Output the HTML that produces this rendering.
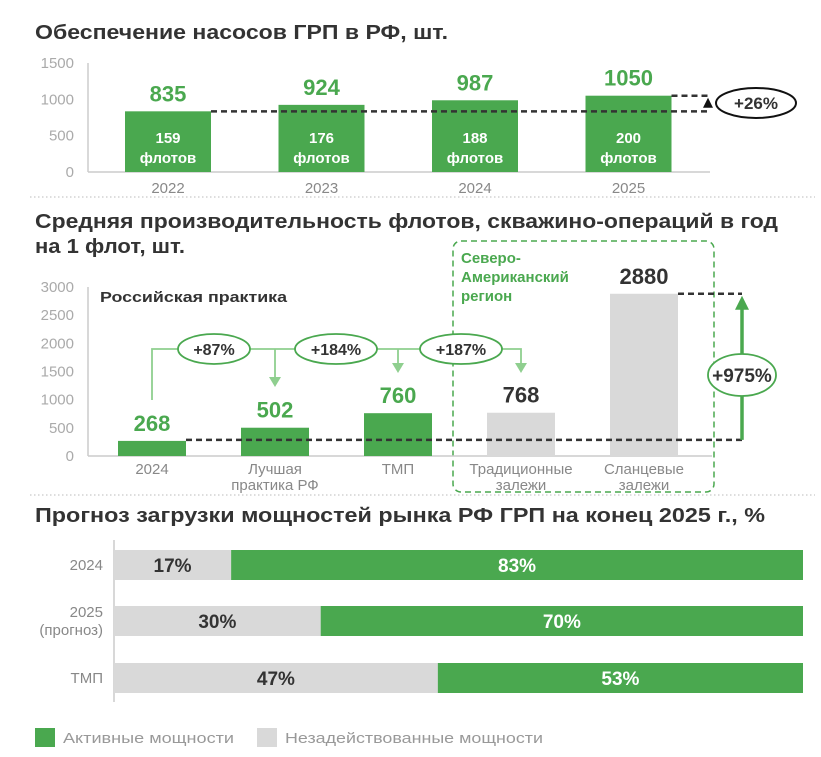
<!DOCTYPE html>
<html><head><meta charset="utf-8"><style>
body{margin:0;background:#fff;}
svg{display:block;font-family:"Liberation Sans","DejaVu Sans",sans-serif;}
.t{font-weight:bold;font-size:20px;fill:#333;}
.tick{font-size:15px;fill:#aaa;}
.cat{font-size:15px;fill:#888;}
</style></head><body>
<svg id="c" width="821" height="757" viewBox="0 0 821 757" xmlns="http://www.w3.org/2000/svg">
<text class="t" x="35" y="39" textLength="413" lengthAdjust="spacingAndGlyphs">Обеспечение насосов ГРП в РФ, шт.</text>
<text class="t" x="35" y="228" textLength="743" lengthAdjust="spacingAndGlyphs">Средняя производительность флотов, скважино-операций в год</text>
<text class="t" x="35" y="253" textLength="150" lengthAdjust="spacingAndGlyphs">на 1 флот, шт.</text>
<text class="t" x="35" y="522" textLength="730" lengthAdjust="spacingAndGlyphs">Прогноз загрузки мощностей рынка РФ ГРП на конец 2025 г., %</text>
<line x1="30" y1="197" x2="815" y2="197" stroke="#bbb" stroke-dasharray="1.5 2.5"/>
<line x1="30" y1="495" x2="815" y2="495" stroke="#bbb" stroke-dasharray="1.5 2.5"/>
<g id="g1"></g><g id="g2"></g><g id="g3"></g>
<rect x="35" y="728" width="20" height="19" fill="#4aa84f"/>
<text x="63" y="743" font-size="15" fill="#999" textLength="171" lengthAdjust="spacingAndGlyphs">Активные мощности</text>
<rect x="257" y="728" width="20" height="19" fill="#d9d9d9"/>
<text x="285" y="743" font-size="15" fill="#999" textLength="258" lengthAdjust="spacingAndGlyphs">Незадействованные мощности</text>
</svg>
<script>
const years1=["2022","2023","2024","2025"];
const pumps=[835,924,987,1050];
const fleets=[159,176,188,200];
const ticks1=[0,500,1000,1500];
const cats2=[["2024"],["Лучшая","практика РФ"],["ТМП"],["Традиционные","залежи"],["Сланцевые","залежи"]];
const perf=[268,502,760,768,2880];
const ticks2=[0,500,1000,1500,2000,2500,3000];
const growth=["+87%","+184%","+187%"];
const rows3=[["2024"],["2025","(прогноз)"],["ТМП"]];
const idle=[17,30,47];
const active=[83,70,53];
const NS="http://www.w3.org/2000/svg";
function mk(p,tag,a,txt){const e=document.createElementNS(NS,tag);for(const k in a)e.setAttribute(k,a[k]);if(txt!==undefined)e.textContent=txt;p.appendChild(e);return e;}
const G="#4aa84f",GL="#8fcf8f",GR="#d9d9d9",DK="#333";
// chart 1
(function(){
const g=document.getElementById('g1');
const y=v=>172-v*109/1500, x=i=>168+i*153.5, bw=86;
ticks1.forEach(t=>{const e=mk(g,'text',{x:74,y:y(t)+5,'text-anchor':'end',class:'tick'},t);

});
let e=mk(g,'line',{x1:88,y1:63,x2:88,y2:172,stroke:'#ccc','stroke-width':1.5});


e=mk(g,'line',{x1:88,y1:172,x2:710,y2:172,stroke:'#ccc','stroke-width':1.5});


years1.forEach((yr,i)=>{
 e=mk(g,'rect',{x:x(i)-bw/2,y:y(pumps[i]),width:bw,height:172-y(pumps[i]),fill:G});
 
 
 e=mk(g,'text',{x:x(i),y:y(pumps[i])-10,'text-anchor':'middle','font-size':22,'font-weight':'bold',fill:G},pumps[i]);
 
 
 e=mk(g,'text',{x:x(i),y:143,'text-anchor':'middle','font-size':15,'font-weight':'bold',fill:'#fff'},fleets[i]);
 
 
 e=mk(g,'text',{x:x(i),y:163,'text-anchor':'middle','font-size':15,'font-weight':'bold',fill:'#fff'},'флотов');
 
 
 e=mk(g,'text',{x:x(i),y:193,'text-anchor':'middle',class:'cat'},yr);
 
 
});
const ax=708;
e=mk(g,'line',{x1:x(0)+bw/2,y1:y(pumps[0]),x2:ax,y2:y(pumps[0]),stroke:DK,'stroke-width':2.5,'stroke-dasharray':'6 4'});


e=mk(g,'line',{x1:x(3)+bw/2,y1:y(pumps[3]),x2:ax,y2:y(pumps[3]),stroke:DK,'stroke-width':2.5,'stroke-dasharray':'6 4'});


e=mk(g,'path',{d:`M${ax-5} ${y(pumps[3])+12} L${ax} ${y(pumps[3])+2} L${ax+5} ${y(pumps[3])+12} Z`,fill:'#111'});


e=mk(g,'ellipse',{cx:756,cy:103,rx:40,ry:15,fill:'#fff',stroke:'#111','stroke-width':2});


e=mk(g,'text',{x:756,y:109,'text-anchor':'middle','font-size':17,'font-weight':'bold',fill:DK},'+26%');


})();
// chart 2
(function(){
const g=document.getElementById('g2');
const y=v=>456-v*169/3000, x=i=>152+i*123, bw=68;
let e=mk(g,'rect',{x:453,y:241,width:261,height:251,rx:8,fill:'none',stroke:G,'stroke-width':1.5,'stroke-dasharray':'6 4'});


ticks2.forEach(t=>{e=mk(g,'text',{x:74,y:y(t)+5,'text-anchor':'end',class:'tick'},t);

});
e=mk(g,'line',{x1:88,y1:287,x2:88,y2:456,stroke:'#ccc','stroke-width':1.5});


e=mk(g,'line',{x1:88,y1:456,x2:712,y2:456,stroke:'#ccc','stroke-width':1.5});


e=mk(g,'text',{x:100,y:302,'font-size':15,'font-weight':'bold',fill:DK,textLength:187,lengthAdjust:'spacingAndGlyphs'},'Российская практика');


['Северо-','Американский','регион'].forEach((s,k)=>{e=mk(g,'text',{x:461,y:263+k*19,'font-size':15,'font-weight':'bold',fill:G},s);

});
perf.forEach((v,i)=>{
 const c=i<3?G:GR;
 e=mk(g,'rect',{x:x(i)-bw/2,y:y(v),width:bw,height:456-y(v),fill:c});
 
 
 e=mk(g,'text',{x:x(i),y:y(v)-10,'text-anchor':'middle','font-size':22,'font-weight':'bold',fill:i<3?G:DK},v);
 
 
 cats2[i].forEach((s,k)=>{e=mk(g,'text',{x:x(i),y:474+k*16,'text-anchor':'middle',class:'cat'},s);
 
 });
});
const ax=742;
e=mk(g,'line',{x1:x(0)+bw/2,y1:y(perf[0])-1,x2:ax,y2:y(perf[0])-1,stroke:DK,'stroke-width':2.5,'stroke-dasharray':'6 4'});


e=mk(g,'line',{x1:x(4)+bw/2,y1:y(perf[4]),x2:ax,y2:y(perf[4]),stroke:DK,'stroke-width':2.5,'stroke-dasharray':'6 4'});


e=mk(g,'line',{x1:ax,y1:y(perf[0])-1,x2:ax,y2:y(perf[4])+14,stroke:G,'stroke-width':3.5});


e=mk(g,'path',{d:`M${ax-7} ${y(perf[4])+16} L${ax} ${y(perf[4])+2} L${ax+7} ${y(perf[4])+16} Z`,fill:G});


e=mk(g,'ellipse',{cx:ax,cy:375,rx:34,ry:21,fill:'#fff',stroke:G,'stroke-width':1.8});


e=mk(g,'text',{x:ax,y:382,'text-anchor':'middle','font-size':19,'font-weight':'bold',fill:DK},'+975%');


const ly=349;
e=mk(g,'path',{d:`M${x(0)} 400 V${ly} H${x(3)} V${ly+14}`,fill:'none',stroke:GL,'stroke-width':1.8});


[1,2,3].forEach(i=>{
 const tip=i==1?387:373;
 if(i<3){e=mk(g,'line',{x1:x(i),y1:ly,x2:x(i),y2:tip-8,stroke:GL,'stroke-width':1.8});
 
 }
 e=mk(g,'path',{d:`M${x(i)-6} ${tip-10} L${x(i)} ${tip} L${x(i)+6} ${tip-10} Z`,fill:GL});
 
 
});
const ex=[214,336,461], ew=[36,41,41];
growth.forEach((s,k)=>{
 e=mk(g,'ellipse',{cx:ex[k],cy:ly,rx:ew[k],ry:15,fill:'#fff',stroke:G,'stroke-width':1.8});
 
 
 e=mk(g,'text',{x:ex[k],y:ly+6,'text-anchor':'middle','font-size':16,'font-weight':'bold',fill:DK},s);
 
 
});
})();
// chart 3
(function(){
const g=document.getElementById('g3');
const x0=114,W=689,x=v=>x0+v*W/100, rowY=[550,606,663], h=30;
let e=mk(g,'line',{x1:x0,y1:540,x2:x0,y2:702,stroke:'#ccc','stroke-width':1.5});


rows3.forEach((r,i)=>{
 const yy=rowY[i];
 e=mk(g,'rect',{x:x0,y:yy,width:x(idle[i])-x0,height:h,fill:GR});
 
 
 e=mk(g,'rect',{x:x(idle[i]),y:yy,width:x(idle[i]+active[i])-x(idle[i]),height:h,fill:G});
 
 
 e=mk(g,'text',{x:(x0+x(idle[i]))/2,y:yy+22,'text-anchor':'middle','font-size':19,'font-weight':'bold',fill:DK},idle[i]+'%');
 
 
 e=mk(g,'text',{x:(x(idle[i])+x(idle[i]+active[i]))/2,y:yy+22,'text-anchor':'middle','font-size':19,'font-weight':'bold',fill:'#fff'},active[i]+'%');
 
 
 const n=r.length;
 r.forEach((s,k)=>{e=mk(g,'text',{x:103,y:yy+20-(n-1)*9+k*18,'text-anchor':'end',class:'cat'},s);
 
 });
});
})();
</script>
</body></html>
